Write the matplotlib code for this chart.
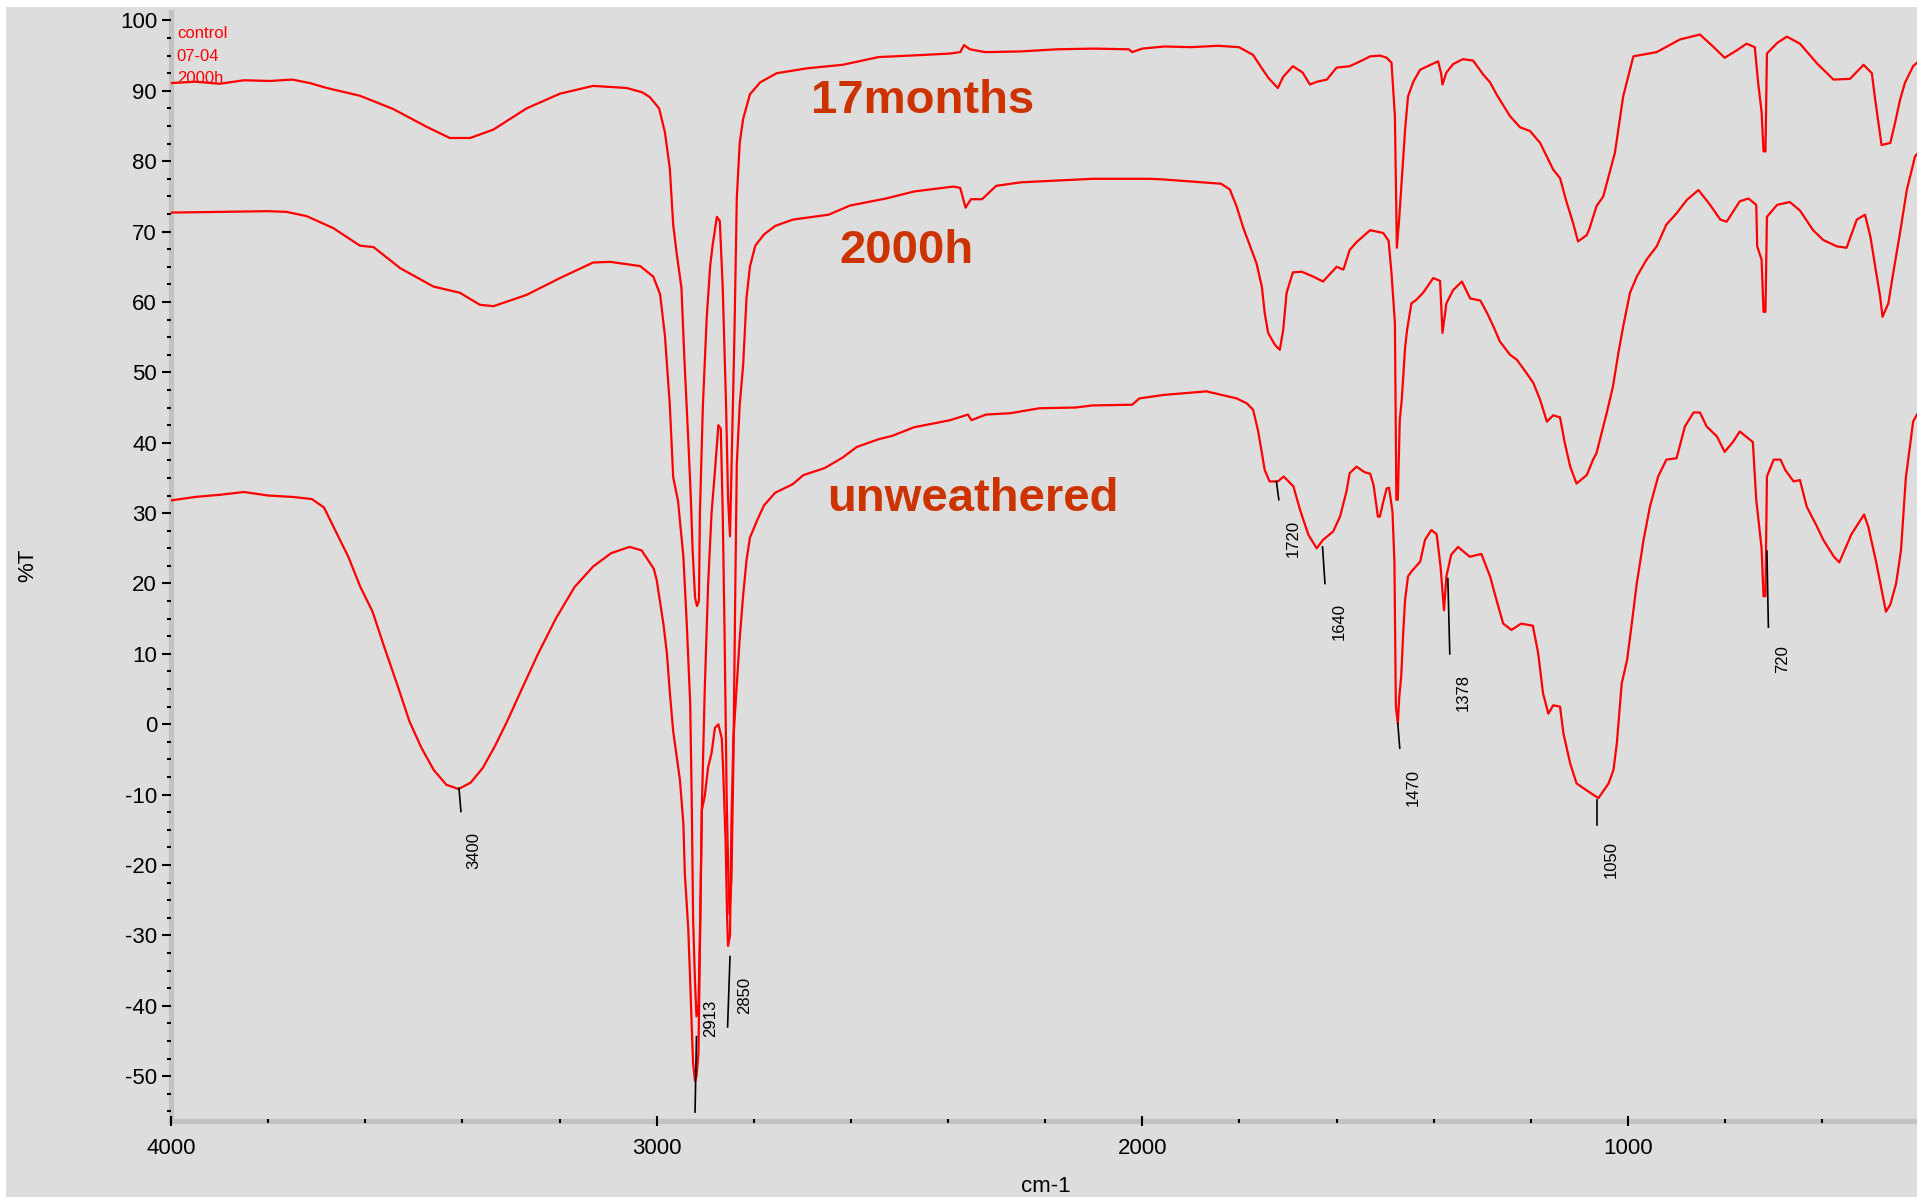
import matplotlib
matplotlib.use("Agg")
import matplotlib.pyplot as plt
from matplotlib.patches import Rectangle
from matplotlib.ticker import MultipleLocator

plt.rcParams["font.family"] = ["Liberation Sans", "DejaVu Sans"]
plt.rcParams["axes.unicode_minus"] = False

# --- spectra (wavenumber cm-1, %T) ---
months17_wn = [4000, 3950, 3900, 3850, 3796, 3750, 3714, 3679, 3611, 3542, 3474, 3426, 3384, 3336,
               3268, 3199, 3131, 3062, 3030, 3014, 2995, 2983, 2973, 2966, 2959, 2949, 2943, 2935,
               2930, 2926, 2921, 2917, 2913, 2911, 2905, 2897, 2890, 2885, 2876, 2870, 2864, 2857,
               2853, 2849, 2846, 2840, 2835, 2829, 2822, 2808, 2787, 2753, 2690, 2617, 2543, 2450,
               2396, 2375, 2367, 2355, 2324, 2250, 2176, 2100, 2028, 2021, 2000, 1955, 1900, 1844,
               1801, 1772, 1752, 1740, 1721, 1710, 1690, 1670, 1655, 1640, 1620, 1600, 1573, 1545,
               1531, 1510, 1497, 1487, 1480, 1476, 1471, 1464, 1459, 1453, 1442, 1428, 1391, 1385,
               1382, 1374, 1360, 1340, 1319, 1298, 1284, 1270, 1243, 1222, 1202, 1181, 1164, 1154,
               1140, 1127, 1113, 1103, 1085, 1079, 1065, 1051, 1027, 1010, 989, 941, 893, 852,
               825, 801, 775, 756, 739, 732, 725, 721, 717, 714, 693, 673, 646, 611, 577, 543,
               515, 498, 491, 478, 460, 450, 440, 430, 413, 405]
months17_t = [91.1, 91.3, 91.0, 91.5, 91.4, 91.6, 91.1, 90.4, 89.3, 87.4, 84.9, 83.3, 83.3, 84.5,
              87.5, 89.6, 90.7, 90.4, 89.8, 89.1, 87.5, 84.1, 79.0, 71.0, 67.0, 62.0, 52.0, 40.5,
              32.7, 24.8, 18.0, 16.8, 17.5, 30.0, 45.0, 57.7, 65.0, 68.0, 72.1, 71.5, 62.0, 45.0,
              32.0, 26.7, 36.0, 55.0, 74.8, 82.6, 86.0, 89.5, 91.2, 92.5, 93.2, 93.7, 94.8, 95.1,
              95.3, 95.5, 96.5, 95.9, 95.5, 95.6, 95.9, 96.0, 95.9, 95.5, 96.0, 96.3, 96.2, 96.4,
              96.2, 95.1, 93.0, 91.8, 90.4, 92.0, 93.5, 92.6, 90.9, 91.3, 91.6, 93.3, 93.5, 94.4,
              94.9, 95.0, 94.7, 94.0, 86.4, 67.7, 72.0, 79.2, 84.5, 89.2, 91.3, 93.0, 94.2, 92.5,
              90.9, 92.6, 93.8, 94.5, 94.3, 92.3, 91.2, 89.4, 86.4, 84.8, 84.3, 82.6, 80.2, 78.8,
              77.6, 74.3, 71.2, 68.6, 69.5, 70.5, 73.6, 75.0, 81.2, 89.2, 94.9, 95.5, 97.3, 98.0,
              96.3, 94.7, 95.8, 96.7, 96.2, 91.1, 87.0, 81.4, 81.4, 95.3, 96.8, 97.7, 96.7, 93.9,
              91.6, 91.7, 93.7, 92.5, 88.7, 82.3, 82.6, 85.5, 88.7, 91.1, 93.5, 94.0]

h2000_wn = [4000, 3900, 3800, 3762, 3721, 3666, 3611, 3583, 3528, 3460, 3405, 3364, 3336, 3268,
            3199, 3131, 3096, 3034, 3007, 2993, 2983, 2973, 2966, 2956, 2945, 2938, 2931, 2928,
            2925, 2921, 2918, 2914, 2911, 2907, 2901, 2894, 2887, 2880, 2873, 2868, 2864, 2860,
            2856, 2853, 2850, 2846, 2842, 2838, 2835, 2829, 2822, 2815, 2808, 2797, 2779, 2756,
            2720, 2646, 2602, 2528, 2470, 2389, 2375, 2364, 2353, 2330, 2301, 2250, 2102, 1984,
            1955, 1838, 1820, 1806, 1792, 1778, 1765, 1754, 1748, 1741, 1727, 1717, 1710, 1703,
            1690, 1672, 1648, 1628, 1600, 1586, 1573, 1559, 1531, 1504, 1493, 1487, 1480, 1477,
            1474, 1470, 1466, 1459, 1455, 1446, 1436, 1422, 1411, 1401, 1387, 1382, 1374, 1360,
            1342, 1325, 1304, 1290, 1277, 1264, 1243, 1229, 1209, 1195, 1181, 1167, 1154, 1140,
            1130, 1119, 1106, 1085, 1072, 1065, 1044, 1031, 1020, 1010, 996, 982, 962, 941,
            921, 900, 879, 855, 831, 810, 797, 770, 752, 736, 734, 725, 721, 717,
            714, 693, 667, 646, 619, 598, 570, 550, 529, 512, 501, 491, 481, 476,
            464, 454, 440, 426, 409, 405]
h2000_t = [72.7, 72.8, 72.9, 72.8, 72.2, 70.5, 68.0, 67.8, 64.8, 62.2, 61.3, 59.6, 59.4, 61.0,
           63.4, 65.6, 65.7, 65.1, 63.6, 61.1, 55.2, 45.4, 35.1, 31.7, 23.8, 14.2, 3.0, -10.0,
           -27.6, -36.8, -41.5, -40.0, -30.0, -12.0, 5.0, 20.0, 30.0, 36.0, 42.5, 42.0, 30.0, 12.0,
           -10.0, -20.0, -27.0, -22.0, -5.0, 20.0, 37.0, 45.4, 51.0, 60.6, 65.0, 68.0, 69.6, 70.8,
           71.7, 72.4, 73.7, 74.7, 75.7, 76.4, 76.2, 73.4, 74.6, 74.6, 76.5, 77.0, 77.5, 77.5,
           77.4, 76.8, 76.0, 73.6, 70.5, 67.9, 65.5, 62.2, 58.4, 55.6, 53.9, 53.2, 56.0, 61.3,
           64.2, 64.3, 63.6, 62.9, 65.0, 64.6, 67.4, 68.5, 70.2, 69.8, 68.7, 64.1, 57.0, 31.9,
           31.9, 43.2, 46.0, 53.5, 56.0, 59.8, 60.3, 61.3, 62.4, 63.4, 63.0, 55.6, 59.8, 61.7,
           62.9, 60.5, 60.2, 58.4, 56.5, 54.4, 52.5, 51.8, 49.9, 48.5, 46.1, 43.0, 43.9, 43.6,
           39.9, 36.6, 34.2, 35.4, 37.6, 38.5, 44.2, 48.0, 52.7, 56.5, 61.3, 63.6, 66.0, 67.9,
           71.0, 72.6, 74.5, 75.9, 73.8, 71.7, 71.4, 74.3, 74.7, 73.8, 67.9, 66.0, 58.6, 58.6,
           72.1, 73.8, 74.2, 73.0, 70.2, 68.8, 67.9, 67.7, 71.7, 72.4, 69.3, 65.0, 60.8, 57.9,
           59.8, 64.1, 69.8, 75.9, 80.7, 81.0]

unweathered_wn = [4000, 3950, 3900, 3850, 3800, 3750, 3710, 3685, 3660, 3635, 3610, 3585, 3560,
                  3534, 3509, 3484, 3459, 3433, 3408, 3383, 3358, 3333, 3308, 3283, 3245, 3207,
                  3169, 3131, 3094, 3056, 3031, 3006, 3000, 2986, 2979, 2973, 2966, 2959, 2952,
                  2945, 2942, 2935, 2931, 2928, 2925, 2921, 2918, 2914, 2911, 2907, 2901, 2894,
                  2887, 2880, 2873, 2866, 2863, 2858, 2855, 2853, 2849, 2846, 2842, 2835, 2829,
                  2822, 2815, 2808, 2793, 2779, 2756, 2720, 2698, 2654, 2617, 2588, 2543, 2514,
                  2470, 2396, 2359, 2352, 2322, 2271, 2212, 2138, 2102, 2021, 2006, 1955, 1868,
                  1806, 1785, 1772, 1762, 1755, 1748, 1738, 1721, 1709, 1689, 1675, 1658, 1641,
                  1628, 1607, 1593, 1580, 1573, 1559, 1542, 1531, 1524, 1515, 1511, 1504, 1497,
                  1492, 1485, 1481, 1478, 1474, 1471, 1467, 1463, 1459, 1453, 1446, 1428, 1418,
                  1405, 1394, 1386, 1379, 1374, 1364, 1350, 1326, 1302, 1284, 1271, 1257, 1240,
                  1220, 1196, 1185, 1175, 1164, 1154, 1140, 1133, 1119, 1106, 1085, 1061, 1040,
                  1030, 1023, 1013, 1002, 993, 982, 968, 955, 938, 921, 900, 883, 865, 852, 838,
                  817, 801, 784, 770, 743, 736, 725, 721, 717, 714, 700, 686, 676, 659, 646, 632,
                  611, 598, 576, 565, 540, 514, 505, 489, 469, 460, 448, 438, 428, 413, 405]
unweathered_t = [31.8, 32.3, 32.6, 33.0, 32.5, 32.3, 32.0, 30.8, 27.3, 23.8, 19.5, 16.0, 10.8,
                 5.6, 0.4, -3.4, -6.5, -8.6, -9.2, -8.3, -6.2, -3.1, 0.4, 4.2, 9.9, 15.1,
                 19.5, 22.4, 24.3, 25.2, 24.7, 22.1, 20.5, 14.2, 10.1, 4.6, -1.0, -4.5, -8.0,
                 -14.2, -21.3, -29.0, -36.5, -42.6, -48.2, -50.7, -50.0, -46.7, -31.5, -12.2, -10.2, -6.1,
                 -4.1, -0.5, 0.0, -2.0, -6.6, -16.9, -27.4, -31.5, -30.0, -13.7, -2.0, 5.6, 12.2,
                 18.3, 23.3, 26.5, 29.0, 31.1, 32.9, 34.1, 35.4, 36.4, 37.9, 39.4, 40.5, 41.0,
                 42.2, 43.2, 44.0, 43.2, 44.0, 44.2, 44.9, 45.0, 45.3, 45.4, 46.3, 46.8, 47.3,
                 46.3, 45.6, 44.7, 41.8, 39.0, 36.1, 34.5, 34.5, 35.2, 33.8, 30.4, 26.9, 25.0,
                 26.2, 27.4, 29.5, 33.0, 35.7, 36.6, 35.8, 35.6, 34.0, 29.5, 29.5, 31.6, 33.5,
                 33.6, 30.2, 23.1, 2.5, 0.1, 3.9, 6.8, 12.9, 17.7, 21.0, 21.7, 23.1, 26.2,
                 27.6, 27.0, 22.4, 16.2, 21.0, 24.1, 25.2, 23.8, 24.2, 21.0, 17.7, 14.3, 13.4,
                 14.3, 14.0, 10.1, 4.4, 1.5, 2.7, 2.5, -1.3, -5.6, -8.4, -9.4, -10.5, -8.4,
                 -6.5, -2.7, 5.8, 9.1, 13.9, 20.0, 26.2, 30.9, 35.2, 37.6, 37.8, 42.3, 44.3, 44.3, 42.3,
                 40.9, 38.7, 40.1, 41.6, 40.1, 31.9, 25.0, 18.2, 18.2, 35.2, 37.6, 37.6, 36.1, 34.5, 34.7, 30.9,
                 28.1, 26.2, 23.8, 23.0, 27.0, 29.8, 28.0, 23.0, 16.0, 17.0, 20.0, 24.7, 35.0, 43.0, 44.0]

# peak picks: label, leader start (wn, %T), leader end (wn, %T), label corner (wn, %T)
peak_labels = ["3400", "2913", "2850", "1720", "1640", "1470", "1378", "1050", "720"]
leader_from = [(3407, -9.1), (2918, -44.4), (2849, -33.0), (1724, 34.5), (1629, 25.2),
               (1474, 0.1), (1371, 20.7), (1063, -10.8), (714, 24.6)]
leader_to = [(3403, -12.4), (2921, -55.1), (2854, -43.0), (1719, 31.9), (1624, 20.0),
             (1470, -3.4), (1367, 10.0), (1063, -14.3), (711, 13.8)]
label_at = [(3392, -15.3), (2904, -39.2), (2835, -35.9), (1704, 29.0), (1610, 17.2),
            (1457, -6.3), (1354, 7.2), (1051, -16.6), (697, 11.3)]

series_names = ["17months", "2000h", "unweathered"]
series_text_at = [(2683, 86.9), (2624, 65.6), (2650, 30.3)]
header_lines = ["control", "07-04", "2000h"]

BG = "#dddddd"
SPINE = "#c2c2c2"
W, H = 1917, 1200

fig = plt.figure(figsize=(W / 100, H / 100), dpi=100, facecolor="white")
fig.patches.append(Rectangle((6 / W, 3 / H), 1 - 6 / W, 1 - 10 / H,
                             transform=fig.transFigure, facecolor=BG, edgecolor="none", zorder=-10))
ax = fig.add_axes([171 / W, 1 - 1120.5 / H, 1 - 171 / W, (1120.5 - 12) / H])
ax.set_facecolor(BG)

for wn, t in [(months17_wn, months17_t), (h2000_wn, h2000_t), (unweathered_wn, unweathered_t)]:
    ax.plot(wn, t, color="#ff0000", lw=1.6, zorder=3)

for lab, p0, p1, pt in zip(peak_labels, leader_from, leader_to, label_at):
    ax.plot([p0[0], p1[0]], [p0[1], p1[1]], color="black", lw=1.2, zorder=4)
    ax.text(pt[0], pt[1], lab, rotation=90, ha="left", va="top", fontsize=12, color="black")

for name, (x, y) in zip(series_names, series_text_at):
    ax.text(x, y, name, fontsize=34, fontweight="bold", color="#cc3300", va="baseline", ha="left")

for i, line in enumerate(header_lines):
    ax.text(3988, 97.5 - i * 3.2, line, fontsize=12, color="#ff0000", va="baseline", ha="left")

ax.set_xlim(4000, 405)
ax.set_ylim(-56.3, 101.2)
ax.xaxis.set_major_locator(MultipleLocator(1000))
ax.xaxis.set_minor_locator(MultipleLocator(200))
ax.yaxis.set_major_locator(MultipleLocator(10))
ax.yaxis.set_minor_locator(MultipleLocator(2.5))

for side in ["top", "right"]:
    ax.spines[side].set_visible(False)
for side in ["left", "bottom"]:
    ax.spines[side].set_color(SPINE)
    ax.spines[side].set_linewidth(3.8)
    ax.spines[side].set_zorder(1)
ax.xaxis.set_zorder(5)
ax.yaxis.set_zorder(5)

ax.tick_params(axis="y", which="major", direction="out", length=6.5, width=1.5, pad=3.5,
               labelsize=16, color="black")
ax.tick_params(axis="y", which="minor", direction="out", length=3, width=1.5, color="black")
ax.tick_params(axis="x", which="major", direction="inout", length=6.5, width=1.5, pad=9,
               labelsize=16, color="black")
ax.tick_params(axis="x", which="minor", direction="inout", length=3.5, width=1.5, color="black")

fig.text(28 / W, 1 - 565 / H, "%T", rotation=90, ha="center", va="center", fontsize=16)
fig.text(1046 / W, 1 - 1186 / H, "cm-1", ha="center", va="center", fontsize=16)

fig.savefig("out.png", dpi=100, facecolor="white")
